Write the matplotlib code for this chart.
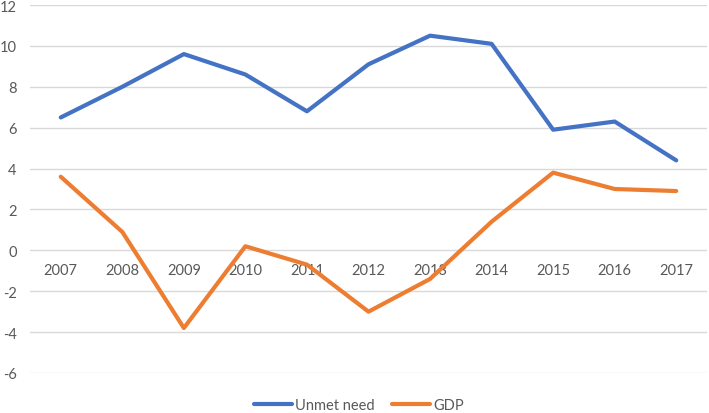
import matplotlib
matplotlib.use("Agg")
import matplotlib.pyplot as plt

years = ["2007", "2008", "2009", "2010", "2011", "2012", "2013", "2014", "2015", "2016", "2017"]
unmet_need = [6.5, 8.0, 9.6, 8.6, 6.8, 9.1, 10.5, 10.1, 5.9, 6.3, 4.4]
gdp = [3.6, 0.9, -3.8, 0.2, -0.7, -3.0, -1.4, 1.4, 3.8, 3.0, 2.9]
y_ticks = [-6, -4, -2, 0, 2, 4, 6, 8, 10, 12]

plt.rcParams['font.family'] = ['Lato', 'DejaVu Sans']
text_color = '#595959'

fig = plt.figure(figsize=(7.09, 4.14), dpi=100)
W, H = 709, 414
ax = fig.add_axes([30 / W, 40 / H, 677 / W, 368 / H])

x = list(range(len(years)))
ax.plot(x, unmet_need, color='#4472C4', lw=3, solid_capstyle='round', solid_joinstyle='round',
        label='Unmet need', zorder=3)
ax.plot(x, gdp, color='#ED7D31', lw=3, solid_capstyle='round', solid_joinstyle='round',
        label='GDP', zorder=3)

ax.set_xlim(-0.5, len(years) - 0.5)
ax.set_ylim(-6, 12)
ax.set_yticks(y_ticks)
ax.set_yticklabels([str(t) for t in y_ticks], color=text_color, fontsize=10.5)
ax.tick_params(axis='y', length=0, pad=9.5)
ax.set_xticks([])
ax.grid(axis='y', color='#D9D9D9', lw=1)
ax.set_axisbelow(True)
for s in ax.spines.values():
    s.set_visible(False)

# category labels sit just under the zero line
for i, yr in enumerate(years):
    ax.annotate(yr, (i, 0), xytext=(0, -14.5), textcoords='offset points',
                ha='center', va='center', color=text_color, fontsize=10.5, zorder=2)

fig.legend(loc='center', bbox_to_anchor=(359 / W, 1 - 406 / H), ncol=2, frameon=False,
           fontsize=10.5, labelcolor=text_color, handlelength=2.6, handletextpad=0.2,
           columnspacing=1.2)

fig.savefig('out.png', dpi=100)
